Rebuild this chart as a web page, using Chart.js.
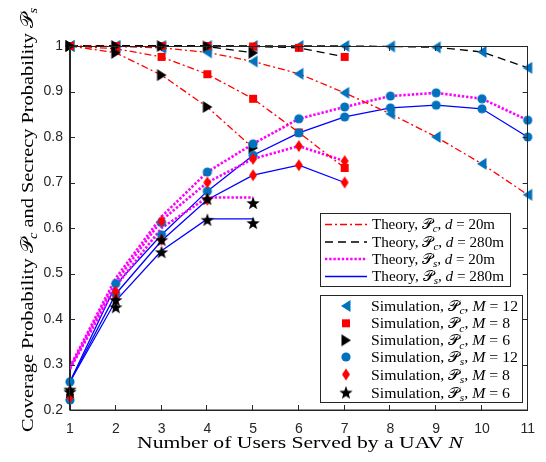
<!DOCTYPE html>
<html><head><meta charset="utf-8">
<script src="https://cdn.jsdelivr.net/npm/chart.js@4.4.1/dist/chart.umd.min.js"></script>
<style>html,body{margin:0;padding:0;background:#fff;} #wrap{width:546px;height:462px;position:relative;}</style>
</head><body><div id="wrap"><canvas id="c" width="546" height="462"></canvas></div>
<script>
// ---------- data ----------
const N = [1, 2, 3, 4, 5, 6, 7, 8, 9, 10, 11];
const xTickLabels = ['1', '2', '3', '4', '5', '6', '7', '8', '9', '10', '11'];
const yTickValues = [0.2, 0.3, 0.4, 0.5, 0.6, 0.7, 0.8, 0.9, 1.0];
const yTickLabels = ['0.2', '0.3', '0.4', '0.5', '0.6', '0.7', '0.8', '0.9', '1'];

// Theory, coverage probability Pc
const thPc20_M12 = [1.0, 0.999, 0.996, 0.986, 0.966, 0.939, 0.897, 0.851, 0.800, 0.741, 0.673];
const thPc20_M8  = [1.0, 0.994, 0.976, 0.938, 0.884, 0.810, 0.732];
const thPc20_M6  = [1.0, 0.985, 0.936, 0.866, 0.776];
const thPc280_M12 = [1.0, 1.0, 1.0, 1.0, 1.0, 1.0, 1.0, 0.999, 0.997, 0.987, 0.952];
const thPc280_M8  = [1.0, 1.0, 1.0, 1.0, 0.999, 0.996, 0.976];
const thPc280_M6  = [1.0, 1.0, 1.0, 0.999, 0.985];
// Theory, secrecy probability Ps
const thPs20_M12 = [0.295, 0.490, 0.625, 0.723, 0.785, 0.840, 0.866, 0.890, 0.897, 0.884, 0.837];
const thPs20_M8  = [0.292, 0.482, 0.617, 0.700, 0.752, 0.780, 0.747];
const thPs20_M6  = [0.290, 0.472, 0.600, 0.667, 0.667];
const thPs280_M12 = [0.262, 0.475, 0.585, 0.681, 0.760, 0.809, 0.844, 0.864, 0.870, 0.862, 0.800];
const thPs280_M8  = [0.262, 0.455, 0.572, 0.662, 0.716, 0.738, 0.700];
const thPs280_M6  = [0.262, 0.440, 0.550, 0.620, 0.620];

// Simulation points
const simPc20_M12 = [1.0, 0.999, 0.996, 0.986, 0.966, 0.939, 0.897, 0.851, 0.800, 0.741, 0.673];
const simPc280_M12 = [1.0, 1.0, 1.0, 1.0, 1.0, 1.0, 1.0, 0.999, 0.997, 0.987, 0.952];
const simPc20_M8 = [1.0, 0.994, 0.976, 0.938, 0.884, 0.810, 0.732];
const simPc280_M8 = [1.0, 1.0, 1.0, 1.0, 0.999, 0.996, 0.976];
const simPc20_M6 = [1.0, 0.985, 0.936, 0.866, 0.776];
const simPc280_M6 = [1.0, 1.0, 1.0, 0.999, 0.985];
const simPs20_M12 = [0.262, 0.478, 0.612, 0.723, 0.785, 0.840, 0.866, 0.890, 0.897, 0.884, 0.837];
const simPs280_M12 = [0.222, 0.455, 0.585, 0.681, 0.760, 0.809, 0.844, 0.864, 0.870, 0.862, 0.800];
const simPs20_M8 = [0.233, 0.460, 0.615, 0.700, 0.752, 0.780, 0.747];
const simPs280_M8 = [0.228, 0.445, 0.574, 0.662, 0.716, 0.738, 0.700];
const simPs20_M6 = [0.245, 0.442, 0.574, 0.664, 0.655];
const simPs280_M6 = [0.240, 0.426, 0.547, 0.618, 0.611];

// ---------- styles ----------
const MBLUE = '#0072BD';
const SCRIPT_P = '\u{1D4AB}';
const FAM = '"Liberation Serif", "DejaVu Serif", serif';

function pts(arr) { return arr.map((v, i) => ({ x: N[i], y: v })); }

function makeMarker(kind, color) {
  const s = 18, h = s / 2;
  const c = document.createElement('canvas');
  c.width = s; c.height = s;
  const g = c.getContext('2d');
  g.fillStyle = color;
  g.beginPath();
  if (kind === 'left') { g.moveTo(h - 5, h); g.lineTo(h + 4.5, h - 6); g.lineTo(h + 4.5, h + 6); }
  else if (kind === 'right') { g.moveTo(h + 5, h); g.lineTo(h - 4.5, h - 6); g.lineTo(h - 4.5, h + 6); }
  else if (kind === 'square') { g.rect(h - 4, h - 4, 8, 8); }
  else if (kind === 'circle') { g.arc(h, h, 4.6, 0, Math.PI * 2); }
  else if (kind === 'diamond') { g.moveTo(h, h - 6); g.lineTo(h + 4, h); g.lineTo(h, h + 6); g.lineTo(h - 4, h); }
  else if (kind === 'star') {
    const R = 7, r = 2.9;
    for (let k = 0; k < 10; k++) {
      const a = -Math.PI / 2 + k * Math.PI / 5;
      const rr = k % 2 === 0 ? R : r;
      const px = h + rr * Math.cos(a), py = h + 0.6 + rr * Math.sin(a);
      if (k === 0) g.moveTo(px, py); else g.lineTo(px, py);
    }
  }
  g.closePath(); g.fill();
  return c;
}
const mk = {
  pc12: makeMarker('left', MBLUE),
  pc8: makeMarker('square', '#ff0000'),
  pc6: makeMarker('right', '#000000'),
  ps12: makeMarker('circle', MBLUE),
  ps8: makeMarker('diamond', '#ff0000'),
  ps6: makeMarker('star', '#000000')
};

const LS = {
  pc20: { color: '#ff0000', width: 1.3, dash: [7, 3, 2, 3] },
  pc280: { color: '#000000', width: 1.3, dash: [8, 5] },
  ps20: { color: '#ff00ff', width: 2.6, dash: [2.4, 1.8] },
  ps280: { color: '#0000ff', width: 1.3, dash: [] }
};

function lineDS(arr, st) {
  return { type: 'line', data: pts(arr), borderColor: st.color, borderWidth: st.width, borderDash: st.dash,
    pointRadius: 0, fill: false, tension: 0, order: 20, borderCapStyle: 'butt', clip: false };
}
function markDS(arr, img, ord) {
  return { type: 'line', data: pts(arr), showLine: false, pointStyle: img, pointRadius: 5, order: ord, clip: false };
}

const datasets = [
  lineDS(thPc20_M12, LS.pc20), lineDS(thPc20_M8, LS.pc20), lineDS(thPc20_M6, LS.pc20),
  lineDS(thPc280_M12, LS.pc280), lineDS(thPc280_M8, LS.pc280), lineDS(thPc280_M6, LS.pc280),
  lineDS(thPs20_M12, LS.ps20), lineDS(thPs20_M8, LS.ps20), lineDS(thPs20_M6, LS.ps20),
  lineDS(thPs280_M12, LS.ps280), lineDS(thPs280_M8, LS.ps280), lineDS(thPs280_M6, LS.ps280),
  markDS(simPc20_M12, mk.pc12, 6), markDS(simPc280_M12, mk.pc12, 6),
  markDS(simPc20_M8, mk.pc8, 5), markDS(simPc280_M8, mk.pc8, 5),
  markDS(simPc20_M6, mk.pc6, 4), markDS(simPc280_M6, mk.pc6, 4),
  markDS(simPs20_M12, mk.ps12, 3), markDS(simPs280_M12, mk.ps12, 3),
  markDS(simPs20_M8, mk.ps8, 2), markDS(simPs280_M8, mk.ps8, 2),
  markDS(simPs20_M6, mk.ps6, 1), markDS(simPs280_M6, mk.ps6, 1)
];

// ---------- rich text ----------
function fontFor(type, size) {
  if (type === 'i') return `italic ${size}px ${FAM}`;
  if (type === 'sub') return `italic ${Math.round(size * 0.72)}px ${FAM}`;
  return `${size}px ${FAM}`;
}
function segText(t, ty) { return ty === 'P' ? SCRIPT_P : t; }
function drawRich(ctx, segs, x, y, size, targetW, align) {
  ctx.save();
  let w = 0;
  for (const [t, ty] of segs) { ctx.font = fontFor(ty, size); w += ctx.measureText(segText(t, ty)).width; }
  const sx = targetW ? targetW / w : 1;
  ctx.translate(x, y);
  if (align === 'center') ctx.translate(-w * sx / 2, 0);
  ctx.scale(sx, 1);
  ctx.textBaseline = 'alphabetic';
  ctx.textAlign = 'left';
  ctx.fillStyle = '#000';
  let cx = 0;
  for (const [t, ty] of segs) {
    ctx.font = fontFor(ty, size);
    const s = segText(t, ty);
    ctx.fillText(s, cx, ty === 'sub' ? size * 0.22 : 0);
    cx += ctx.measureText(s).width;
  }
  ctx.restore();
}

const legend1 = [
  { st: LS.pc20, segs: [['Theory, ', 'r'], ['P', 'P'], ['c', 'sub'], [', ', 'r'], ['d', 'i'], [' = 20m', 'r']] },
  { st: LS.pc280, segs: [['Theory, ', 'r'], ['P', 'P'], ['c', 'sub'], [', ', 'r'], ['d', 'i'], [' = 280m', 'r']] },
  { st: LS.ps20, segs: [['Theory, ', 'r'], ['P', 'P'], ['s', 'sub'], [', ', 'r'], ['d', 'i'], [' = 20m', 'r']] },
  { st: LS.ps280, segs: [['Theory, ', 'r'], ['P', 'P'], ['s', 'sub'], [', ', 'r'], ['d', 'i'], [' = 280m', 'r']] }
];
const legend2 = [
  { img: mk.pc12, segs: [['Simulation, ', 'r'], ['P', 'P'], ['c', 'sub'], [', ', 'r'], ['M', 'i'], [' = 12', 'r']] },
  { img: mk.pc8, segs: [['Simulation, ', 'r'], ['P', 'P'], ['c', 'sub'], [', ', 'r'], ['M', 'i'], [' = 8', 'r']] },
  { img: mk.pc6, segs: [['Simulation, ', 'r'], ['P', 'P'], ['c', 'sub'], [', ', 'r'], ['M', 'i'], [' = 6', 'r']] },
  { img: mk.ps12, segs: [['Simulation, ', 'r'], ['P', 'P'], ['s', 'sub'], [', ', 'r'], ['M', 'i'], [' = 12', 'r']] },
  { img: mk.ps8, segs: [['Simulation, ', 'r'], ['P', 'P'], ['s', 'sub'], [', ', 'r'], ['M', 'i'], [' = 8', 'r']] },
  { img: mk.ps6, segs: [['Simulation, ', 'r'], ['P', 'P'], ['s', 'sub'], [', ', 'r'], ['M', 'i'], [' = 6', 'r']] }
];

const decor = {
  id: 'decor',
  afterDraw(chart) {
    const ctx = chart.ctx, a = chart.chartArea;
    const xs = chart.scales.x, ys = chart.scales.y;
    ctx.save();
    // box
    ctx.strokeStyle = '#262626'; ctx.lineWidth = 1;
    ctx.strokeRect(Math.round(a.left) - 0.5, Math.round(a.top) + 0.5, Math.round(a.right - a.left) + 0, Math.round(a.bottom - a.top) - 0.5);
    // inward ticks
    ctx.beginPath();
    for (const n of N) {
      const px = Math.round(xs.getPixelForValue(n)) - 0.5;
      ctx.moveTo(px, a.bottom); ctx.lineTo(px, a.bottom - 5);
      ctx.moveTo(px, a.top); ctx.lineTo(px, a.top + 5);
    }
    for (const v of yTickValues) {
      const py = Math.round(ys.getPixelForValue(v)) + 0.5;
      ctx.moveTo(a.left, py); ctx.lineTo(a.left + 5, py);
      ctx.moveTo(a.right, py); ctx.lineTo(a.right - 5, py);
    }
    ctx.stroke();
    ctx.restore();

    // axis titles
    drawRich(ctx, [['Number of Users Served by a UAV ', 'r'], ['N', 'i']], 300, 448, 17, 326, 'center');
    ctx.save();
    ctx.translate(33, 220);
    ctx.rotate(-Math.PI / 2);
    drawRich(ctx, [['Coverage Probability ', 'r'], ['P', 'P'], ['c', 'sub'], [' and Secrecy Probability ', 'r'], ['P', 'P'], ['s', 'sub']], 0, 0, 17, 424, 'center');
    ctx.restore();

    // legend 1
    ctx.save();
    ctx.fillStyle = '#fff'; ctx.strokeStyle = '#262626'; ctx.lineWidth = 1;
    ctx.fillRect(321, 214, 190, 73); ctx.strokeRect(320.5, 213.5, 190, 73);
    const rows1 = [224, 241.5, 258.5, 276];
    legend1.forEach((e, i) => {
      const y = rows1[i];
      ctx.save();
      ctx.strokeStyle = e.st.color; ctx.lineWidth = e.st.width; ctx.setLineDash(e.st.dash);
      ctx.beginPath(); ctx.moveTo(325, y + 0.5); ctx.lineTo(367, y + 0.5); ctx.stroke();
      ctx.restore();
      const tw = (i % 2 === 1) ? 132 : 123;
      drawRich(ctx, e.segs, 372, y + 5, 15, tw, 'left');
    });
    // legend 2
    ctx.fillStyle = '#fff';
    ctx.fillRect(321, 296, 202, 107); ctx.strokeStyle = '#262626'; ctx.strokeRect(320.5, 295.5, 202, 107);
    const rows2 = [306, 323.3, 340.3, 357, 374.5, 392.5];
    legend2.forEach((e, i) => {
      const y = rows2[i];
      ctx.drawImage(e.img, 346 - e.img.width / 2, y - e.img.height / 2);
      const tw = (i % 3 === 0) ? 147 : 139;
      drawRich(ctx, e.segs, 371, y + 5, 15, tw, 'left');
    });
    ctx.restore();
  }
};

new Chart(document.getElementById('c'), {
  type: 'line',
  data: { datasets },
  options: {
    responsive: false,
    animation: false,
    devicePixelRatio: 1,
    layout: { padding: { top: 46, right: 16, left: 0, bottom: 0 } },
    plugins: { legend: { display: false }, tooltip: { enabled: false } },
    scales: {
      x: {
        type: 'linear', min: 1, max: 11,
        grid: { display: false, drawTicks: false },
        border: { display: true, color: '#262626', width: 1 },
        afterFit: (s) => { s.height = 52; },
        afterBuildTicks: (s) => { s.ticks = N.map(v => ({ value: v })); },
        ticks: { padding: 11, color: '#262626', font: { family: '"Liberation Sans", Arial, sans-serif', size: 14 },
          callback: (v, i) => xTickLabels[i], maxRotation: 0, autoSkip: false }
      },
      y: {
        type: 'linear', min: 0.2, max: 1,
        grid: { display: false, drawTicks: false },
        border: { display: true, color: '#262626', width: 1 },
        afterFit: (s) => { s.width = 70; },
        afterBuildTicks: (s) => { s.ticks = yTickValues.map(v => ({ value: v })); },
        ticks: { padding: 7, color: '#262626', font: { family: '"Liberation Sans", Arial, sans-serif', size: 14 },
          callback: (v, i) => yTickLabels[i], autoSkip: false }
      }
    }
  },
  plugins: [decor]
});
</script>
</body></html>
